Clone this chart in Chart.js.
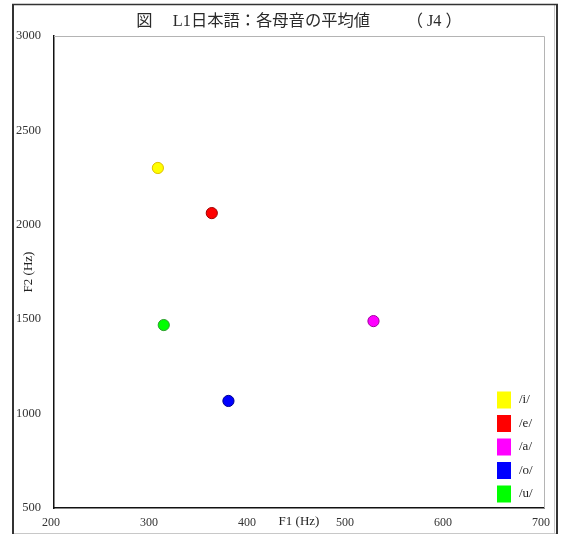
<!DOCTYPE html>
<html>
<head>
<meta charset="utf-8">
<script src="https://cdn.jsdelivr.net/npm/chart.js@4/dist/chart.umd.min.js"></script>
<style>
  html, body { margin: 0; padding: 0; background: #ffffff; }
  canvas { display: block; }
</style>
</head>
<body>
<canvas id="vowelChart" width="561" height="535"></canvas>
<script>
// Mean formant values (Hz) of the five Japanese vowels, speaker J4
const vowels = ['/i/', '/e/', '/a/', '/o/', '/u/'];
const f1Values = [306, 361, 526, 378, 312];
const f2Values = [2301, 2062, 1490, 1067, 1469];
const fillColors = ['#ffff00', '#ff0000', '#ff00ff', '#0000ff', '#00ff00'];
const edgeColors = ['#e0c000', '#a00000', '#a000a0', '#000090', '#30a030'];
const f1Axis = { min: 200, max: 700, step: 100 };
const f2Axis = { min: 500, max: 3000, step: 500 };

const serif = '"Liberation Serif", "Times New Roman", serif';
const titleFont = '"Liberation Serif", "Noto Sans CJK JP", serif';

const datasets = vowels.map((v, i) => ({
  label: v,
  data: [{ x: f1Values[i], y: f2Values[i] }],
  backgroundColor: fillColors[i],
  borderColor: edgeColors[i],
  borderWidth: 1,
  pointRadius: 5.6,
  pointHoverRadius: 5.6
}));

// White page with the outer frame
const pageFrame = {
  id: 'pageFrame',
  beforeDraw(chart) {
    const ctx = chart.ctx;
    ctx.save();
    ctx.fillStyle = '#ffffff';
    ctx.fillRect(0, 0, chart.width, chart.height);
    ctx.lineWidth = 1;
    ctx.strokeStyle = '#c8c8c8';
    ctx.beginPath(); ctx.moveTo(13, 533.5); ctx.lineTo(557, 533.5); ctx.stroke();
    ctx.beginPath(); ctx.moveTo(554.5, 5); ctx.lineTo(554.5, 533); ctx.stroke();
    ctx.strokeStyle = '#333333';
    ctx.lineWidth = 2;
    ctx.beginPath(); ctx.moveTo(13, 4); ctx.lineTo(13, 534); ctx.stroke();
    ctx.beginPath(); ctx.moveTo(557, 4); ctx.lineTo(557, 534); ctx.stroke();
    ctx.lineWidth = 1.5;
    ctx.beginPath(); ctx.moveTo(12, 4.5); ctx.lineTo(558, 4.5); ctx.stroke();
    ctx.restore();
  }
};

// Light top/right edges of the plot box
const plotEdges = {
  id: 'plotEdges',
  beforeDatasetsDraw(chart) {
    const { ctx, chartArea: a } = chart;
    ctx.save();
    ctx.strokeStyle = '#b4b4b4';
    ctx.lineWidth = 1;
    ctx.beginPath();
    ctx.moveTo(a.left, a.top + 0.5);
    ctx.lineTo(a.right + 0.5, a.top + 0.5);
    ctx.lineTo(a.right + 0.5, a.bottom);
    ctx.stroke();
    ctx.restore();
  }
};

// Legend of colour swatches in the lower-right corner of the plot
const vowelLegend = {
  id: 'vowelLegend',
  afterDatasetsDraw(chart) {
    const { ctx, chartArea: a } = chart;
    const ds = chart.data.datasets;
    const rowH = 23.5;
    const boxW = 14, boxH = 17;
    const x0 = a.right - 47;
    const yLast = a.bottom - 14;
    ctx.save();
    ctx.font = '13px ' + serif;
    ctx.textBaseline = 'middle';
    ds.forEach((d, i) => {
      const cy = yLast - (ds.length - 1 - i) * rowH;
      ctx.fillStyle = d.backgroundColor;
      ctx.fillRect(x0, cy - boxH / 2, boxW, boxH);
      ctx.fillStyle = '#222222';
      ctx.fillText(d.label, x0 + 22, cy);
    });
    ctx.restore();
  }
};

const plainNumber = (v) => String(v);

new Chart(document.getElementById('vowelChart'), {
  type: 'scatter',
  data: { datasets },
  options: {
    responsive: false,
    animation: false,
    events: [],
    layout: { padding: { top: 4, right: 15, bottom: 0, left: 0 } },
    plugins: {
      legend: { display: false },
      tooltip: { enabled: false },
      title: {
        display: true,
        fullSize: false,
        text: '図　 L1日本語：各母音の平均値　　 （ J4 ）',
        color: '#2a2a2a',
        font: { family: titleFont, size: 16.3, weight: 'normal', lineHeight: 1.2 },
        padding: { top: 7.6, bottom: 4.84 }
      }
    },
    scales: {
      x: {
        type: 'linear',
        position: 'bottom',
        min: f1Axis.min,
        max: f1Axis.max,
        ticks: {
          stepSize: f1Axis.step,
          padding: 8,
          labelOffset: -3,
          color: '#333333',
          font: { family: serif, size: 12 },
          callback: plainNumber
        },
        grid: { color: 'rgba(0,0,0,0)', drawTicks: false },
        border: { display: true, color: '#111111', width: 1.5 },
        title: {
          display: true,
          text: 'F1 (Hz)',
          color: '#222222',
          font: { family: serif, size: 13, lineHeight: 1.2 },
          padding: { top: 0, bottom: 5.4 }
        },
        afterFit(scale) { scale.height = 27; }
      },
      y: {
        type: 'linear',
        position: 'left',
        min: f2Axis.min,
        max: f2Axis.max,
        ticks: {
          stepSize: f2Axis.step,
          padding: 13,
          color: '#333333',
          font: { family: serif, size: 12.5 },
          callback: plainNumber
        },
        grid: { color: 'rgba(0,0,0,0)', drawTicks: false },
        border: { display: true, color: '#111111', width: 1.5 },
        title: {
          display: true,
          text: 'F2 (Hz)',
          color: '#222222',
          font: { family: serif, size: 13, lineHeight: 1.2 },
          padding: { top: 21, bottom: 0 }
        },
        afterFit(scale) { scale.width = 54; }
      }
    }
  },
  plugins: [pageFrame, plotEdges, vowelLegend]
});
</script>
</body>
</html>
